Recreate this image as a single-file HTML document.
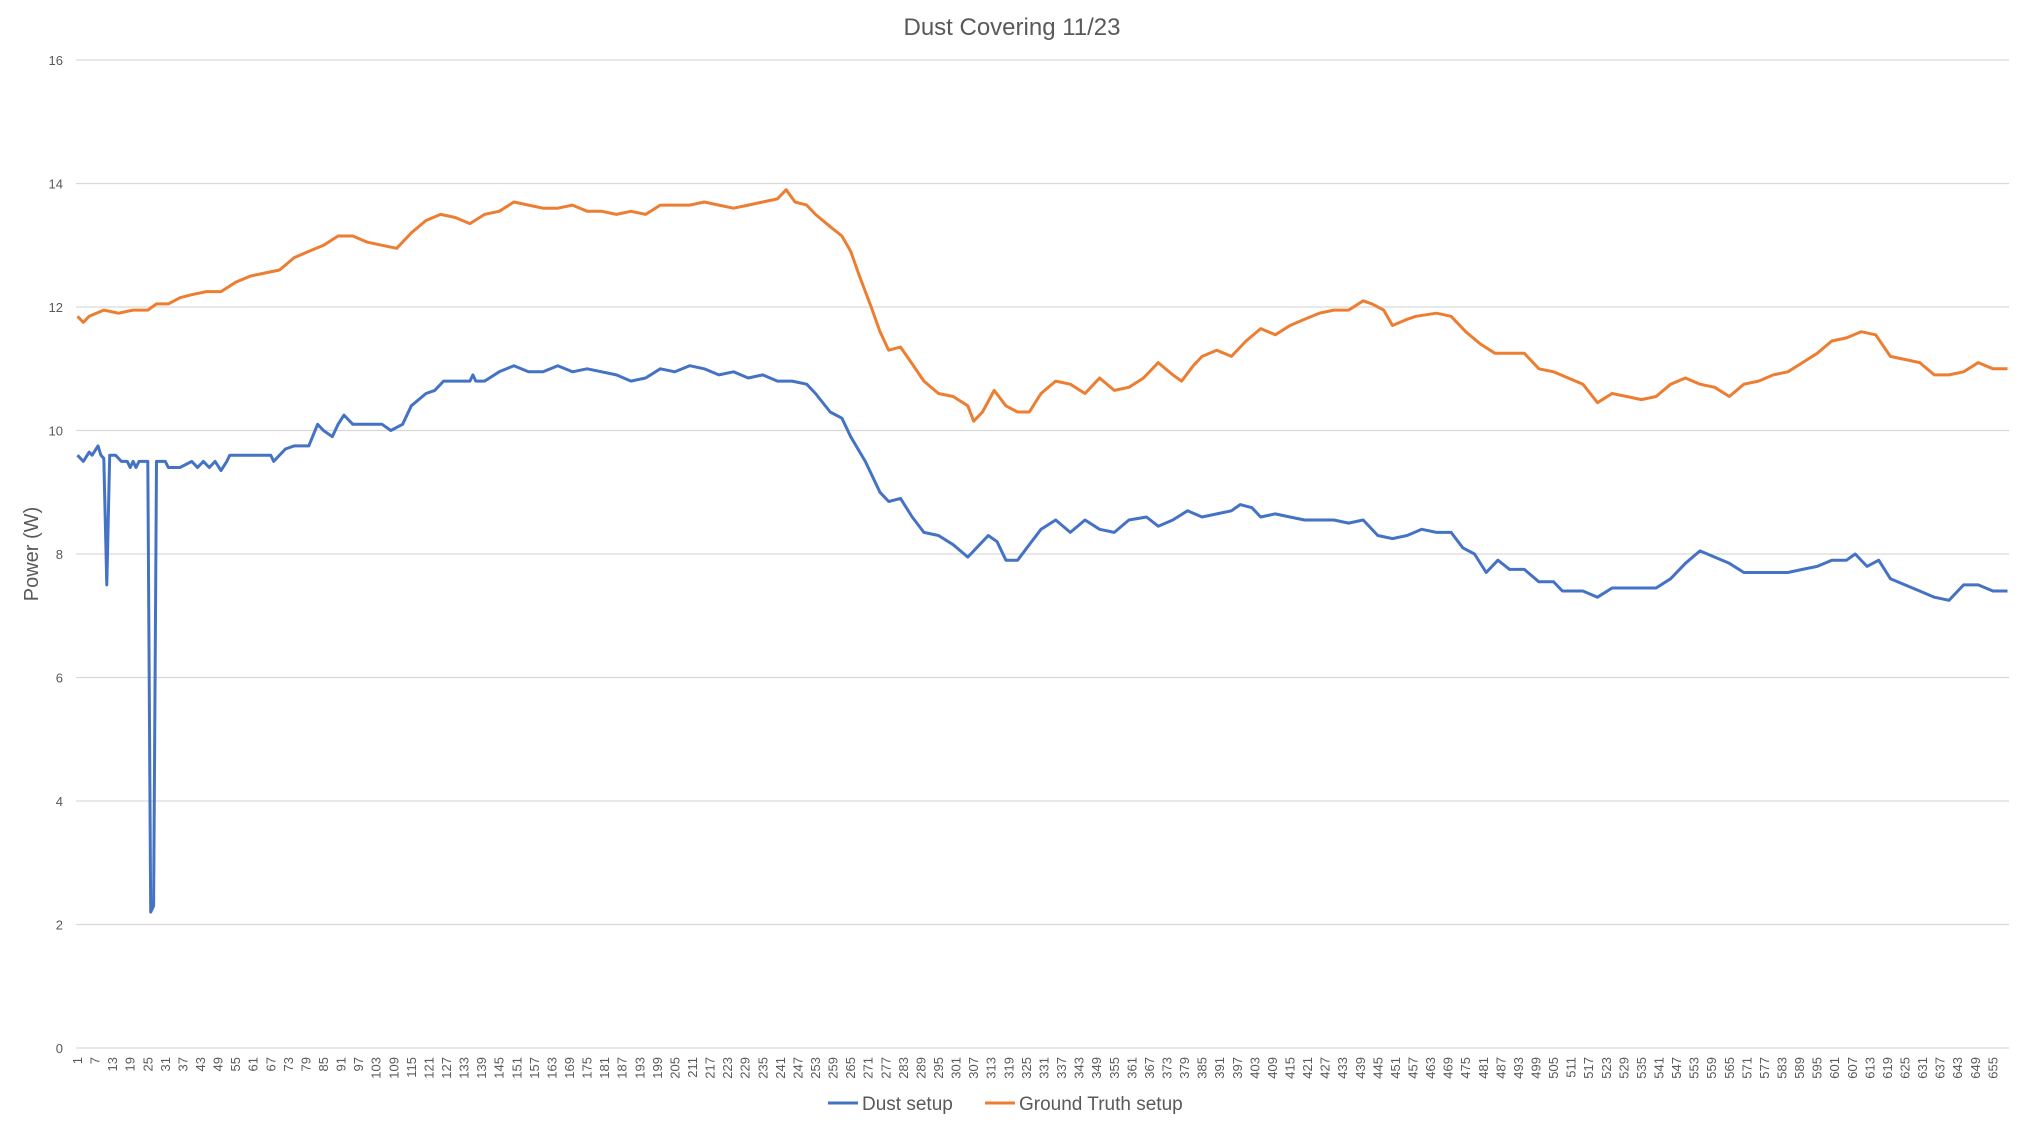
<!DOCTYPE html>
<html><head><meta charset="utf-8"><title>Dust Covering 11/23</title>
<style>
html,body{margin:0;padding:0;background:#fff;}
svg{display:block;font-family:"Liberation Sans",sans-serif;}
</style></head>
<body>
<svg id="chart" width="2025" height="1133" viewBox="0 0 2025 1133" xmlns="http://www.w3.org/2000/svg">
<rect x="0" y="0" width="2025" height="1133" fill="#fff"/>
<text x="1012" y="35" text-anchor="middle" font-size="24" fill="#595959">Dust Covering 11/23</text>
<text transform="translate(38,554) rotate(-90)" text-anchor="middle" font-size="20" fill="#595959">Power (W)</text>
<g id="grid"></g>
<g id="yticks"></g>
<g id="xticks"></g>
<g id="series"></g>
<g>
  <g>
    <line x1="828" y1="1103" x2="858" y2="1103" stroke="#4472C4" stroke-width="3"/>
    <text x="862" y="1110" font-size="19" fill="#595959">Dust setup</text>
  </g>
  <g>
    <line x1="985" y1="1103" x2="1015" y2="1103" stroke="#ED7D31" stroke-width="3"/>
    <text x="1019" y="1110" font-size="19" fill="#595959">Ground Truth setup</text>
  </g>
</g>
</svg>
<script>
const nCategories = 660;
const yTicks = [0,2,4,6,8,10,12,14,16];
const dustX = [1,3,5,6,8,9,10,11,12,14,16,18,19,20,21,22,25,26,27,28,31,32,36,40,42,44,46,48,50,52,53,60,67,68,72,75,80,83,85,88,90,92,95,97,100,105,108,112,115,120,123,126,135,136,137,140,145,150,155,160,165,170,175,180,185,190,195,200,205,210,215,220,225,230,235,240,245,250,253,258,262,265,270,275,278,282,286,290,295,300,305,308,312,315,318,322,326,330,335,340,345,350,355,360,366,370,375,380,385,390,395,398,402,405,410,415,420,425,430,435,440,445,450,455,460,465,470,474,478,482,486,490,495,500,505,508,515,520,525,530,535,540,545,550,555,560,565,570,575,580,585,590,595,600,605,608,612,616,620,625,630,635,640,645,650,655,660];
const dustY = [9.6,9.5,9.65,9.6,9.75,9.6,9.55,7.5,9.6,9.6,9.5,9.5,9.4,9.5,9.4,9.5,9.5,2.2,2.3,9.5,9.5,9.4,9.4,9.5,9.4,9.5,9.4,9.5,9.35,9.5,9.6,9.6,9.6,9.5,9.7,9.75,9.75,10.1,10.0,9.9,10.1,10.25,10.1,10.1,10.1,10.1,10.0,10.1,10.4,10.6,10.65,10.8,10.8,10.9,10.8,10.8,10.95,11.05,10.95,10.95,11.05,10.95,11.0,10.95,10.9,10.8,10.85,11.0,10.95,11.05,11.0,10.9,10.95,10.85,10.9,10.8,10.8,10.75,10.6,10.3,10.2,9.9,9.5,9.0,8.85,8.9,8.6,8.35,8.3,8.15,7.95,8.1,8.3,8.2,7.9,7.9,8.15,8.4,8.55,8.35,8.55,8.4,8.35,8.55,8.6,8.45,8.55,8.7,8.6,8.65,8.7,8.8,8.75,8.6,8.65,8.6,8.55,8.55,8.55,8.5,8.55,8.3,8.25,8.3,8.4,8.35,8.35,8.1,8.0,7.7,7.9,7.75,7.75,7.55,7.55,7.4,7.4,7.3,7.45,7.45,7.45,7.45,7.6,7.85,8.05,7.95,7.85,7.7,7.7,7.7,7.7,7.75,7.8,7.9,7.9,8.0,7.8,7.9,7.6,7.5,7.4,7.3,7.25,7.5,7.5,7.4,7.4];
const gtX = [1,3,5,10,15,20,25,28,32,36,40,45,50,55,60,65,70,75,80,85,90,95,100,105,110,115,120,125,130,135,140,145,150,155,160,165,170,175,180,185,190,195,200,210,215,220,225,230,235,240,243,246,250,253,258,262,265,268,272,275,278,282,285,290,295,300,305,307,310,314,318,322,326,330,335,340,345,350,355,360,365,370,375,378,382,385,390,395,400,405,410,415,420,425,430,435,440,443,447,450,455,458,465,470,475,480,485,490,495,500,505,510,515,520,525,530,535,540,545,550,555,560,565,570,575,580,585,590,595,600,605,610,615,620,625,630,635,640,645,650,655,660];
const gtY = [11.85,11.75,11.85,11.95,11.9,11.95,11.95,12.05,12.05,12.15,12.2,12.25,12.25,12.4,12.5,12.55,12.6,12.8,12.9,13.0,13.15,13.15,13.05,13.0,12.95,13.2,13.4,13.5,13.45,13.35,13.5,13.55,13.7,13.65,13.6,13.6,13.65,13.55,13.55,13.5,13.55,13.5,13.65,13.65,13.7,13.65,13.6,13.65,13.7,13.75,13.9,13.7,13.65,13.5,13.3,13.15,12.9,12.5,12.0,11.6,11.3,11.35,11.15,10.8,10.6,10.55,10.4,10.15,10.3,10.65,10.4,10.3,10.3,10.6,10.8,10.75,10.6,10.85,10.65,10.7,10.85,11.1,10.9,10.8,11.05,11.2,11.3,11.2,11.45,11.65,11.55,11.7,11.8,11.9,11.95,11.95,12.1,12.05,11.95,11.7,11.8,11.85,11.9,11.85,11.6,11.4,11.25,11.25,11.25,11.0,10.95,10.85,10.75,10.45,10.6,10.55,10.5,10.55,10.75,10.85,10.75,10.7,10.55,10.75,10.8,10.9,10.95,11.1,11.25,11.45,11.5,11.6,11.55,11.2,11.15,11.1,10.9,10.9,10.95,11.1,11.0,11.0];

const L=76, R=2009, T=60, B=1048, yMax=16;
const bw=(R-L)/nCategories;
function xs(c){return L+(c-0.5)*bw;}
function ys(v){return B-(v/yMax)*(B-T);}
const NS="http://www.w3.org/2000/svg";
const grid=document.getElementById('grid'), yt=document.getElementById('yticks'), xt=document.getElementById('xticks'), ser=document.getElementById('series');
yTicks.forEach(v=>{
  const l=document.createElementNS(NS,'line');
  l.setAttribute('x1',L);l.setAttribute('x2',R);l.setAttribute('y1',ys(v));l.setAttribute('y2',ys(v));
  l.setAttribute('stroke','#d9d9d9');l.setAttribute('stroke-width','1.3');
  
  
  grid.appendChild(l);
  const t=document.createElementNS(NS,'text');
  t.setAttribute('x',63);t.setAttribute('y',ys(v)+5);t.setAttribute('text-anchor','end');
  t.setAttribute('font-size','13');t.setAttribute('fill','#595959');t.textContent=v;
  
  
  yt.appendChild(t);
});
for(let c=1;c<=nCategories;c+=6){
  const t=document.createElementNS(NS,'text');
  const x=xs(c)+4.5, y=1057;
  t.setAttribute('transform','translate('+x+','+y+') rotate(-90)');
  t.setAttribute('text-anchor','end');t.setAttribute('font-size','13');t.setAttribute('fill','#595959');
  t.textContent=c;
  
  
  xt.appendChild(t);
}
function drawLine(xa,ya,color,name){
  const p=document.createElementNS(NS,'polyline');
  p.setAttribute('points',xa.map((c,i)=>xs(c).toFixed(1)+','+ys(ya[i]).toFixed(1)).join(' '));
  p.setAttribute('fill','none');p.setAttribute('stroke',color);p.setAttribute('stroke-width','3');
  p.setAttribute('stroke-linejoin','round');
  
  
  ser.appendChild(p);
}
drawLine(dustX,dustY,'#4472C4','dust-setup-line');
drawLine(gtX,gtY,'#ED7D31','ground-truth-setup-line');
</script>
</body></html>
